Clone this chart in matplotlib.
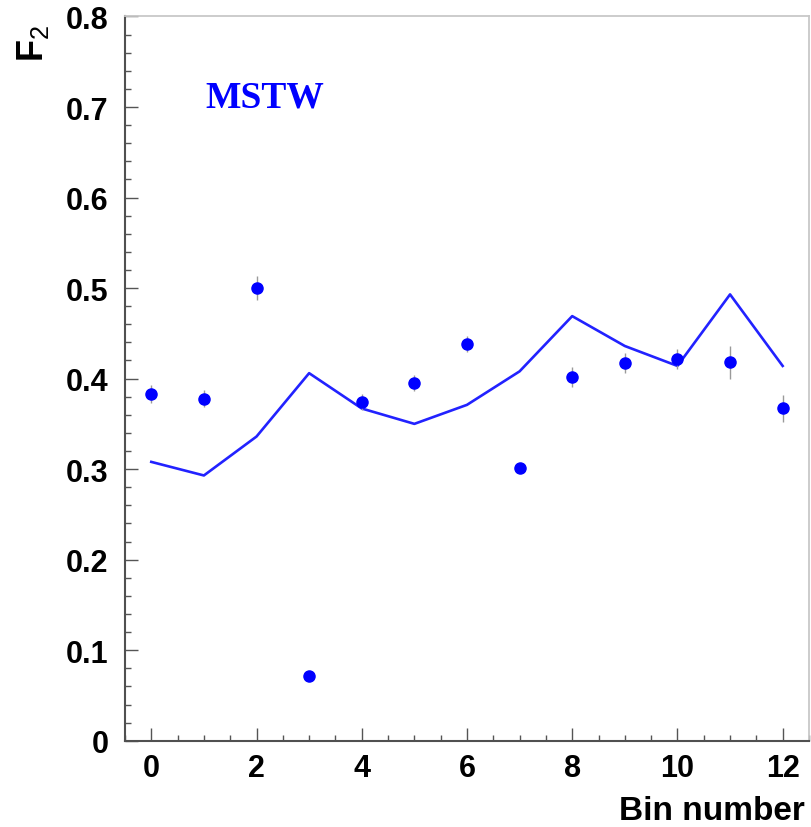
import matplotlib
matplotlib.use("Agg")
import matplotlib.pyplot as plt
import numpy as np
from matplotlib.ticker import MultipleLocator

#%%
# values
bins = np.arange(13)
f2_data = [0.383, 0.378, 0.500, 0.071, 0.374, 0.395, 0.438, 0.301,
           0.402, 0.417, 0.422, 0.418, 0.367]
f2_err = [0.010, 0.009, 0.013, 0.003, 0.009, 0.009, 0.009, 0.003,
          0.011, 0.011, 0.011, 0.018, 0.015]
f2_mstw = [0.308, 0.293, 0.336, 0.406, 0.367, 0.350, 0.371, 0.408,
           0.469, 0.436, 0.414, 0.493, 0.414]

#%%
plt.rcParams["font.family"] = ["Liberation Sans", "DejaVu Sans"]
plt.rcParams["mathtext.fontset"] = "custom"
plt.rcParams["mathtext.rm"] = "Liberation Sans"
plt.rcParams["mathtext.bf"] = "Liberation Sans:bold"

fig = plt.figure(figsize=(8.11, 8.28), dpi=100)
ax = fig.add_axes([0.1541, 0.1042, 0.9975 - 0.1541, 0.9789 - 0.1042])

ax.plot(bins, f2_mstw, c="#2222ff", lw=1.9, zorder=2)
ax.errorbar(bins, f2_data, yerr=f2_err, fmt="none", ecolor="#9a9a9a",
            elinewidth=1.0, zorder=3)
ax.plot(bins, f2_data, linestyle="none", marker="o", ms=8, c="blue",
        mec="blue", zorder=4)

ax.text(0.117, 0.876, "MSTW", transform=ax.transAxes, color="blue",
        fontsize=27, fontweight="bold", family="Liberation Serif",
        ha="left", va="baseline")

ax.set_xlim(-0.5, 12.5)
ax.set_ylim(0, 0.8)
ax.xaxis.set_major_locator(MultipleLocator(2))
ax.xaxis.set_minor_locator(MultipleLocator(0.5))
ax.yaxis.set_minor_locator(MultipleLocator(0.02))
ax.set_yticks(np.arange(0, 0.81, 0.1))
ax.set_yticklabels(["0", "0.1", "0.2", "0.3", "0.4", "0.5", "0.6", "0.7", "0.8"])

ax.tick_params(which="both", direction="in", top=False, right=False,
               color="#555555", width=1.0)
ax.tick_params(which="major", length=9.5)
ax.tick_params(which="minor", length=4.5)
ax.tick_params(axis="y", pad=12)
ax.tick_params(axis="x", pad=9)
for lab in ax.get_xticklabels() + ax.get_yticklabels():
    lab.set_fontsize(22)
    lab.set_fontweight("bold")

for s in ["left", "bottom"]:
    ax.spines[s].set_color("#505050")
    ax.spines[s].set_linewidth(1.5)
for s in ["top", "right"]:
    ax.spines[s].set_color("#c8c8c8")
    ax.spines[s].set_linewidth(1.3)

ax.set_xlabel("Bin number", fontsize=24, fontweight="bold", loc="right")
ax.xaxis.set_label_coords(0.994, -0.075)
ax.set_ylabel(r"F$_{2}$", fontsize=26, fontweight="bold", loc="top")
ax.yaxis.set_label_coords(-0.108, 0.99)

plt.savefig("out.png", dpi=100)
